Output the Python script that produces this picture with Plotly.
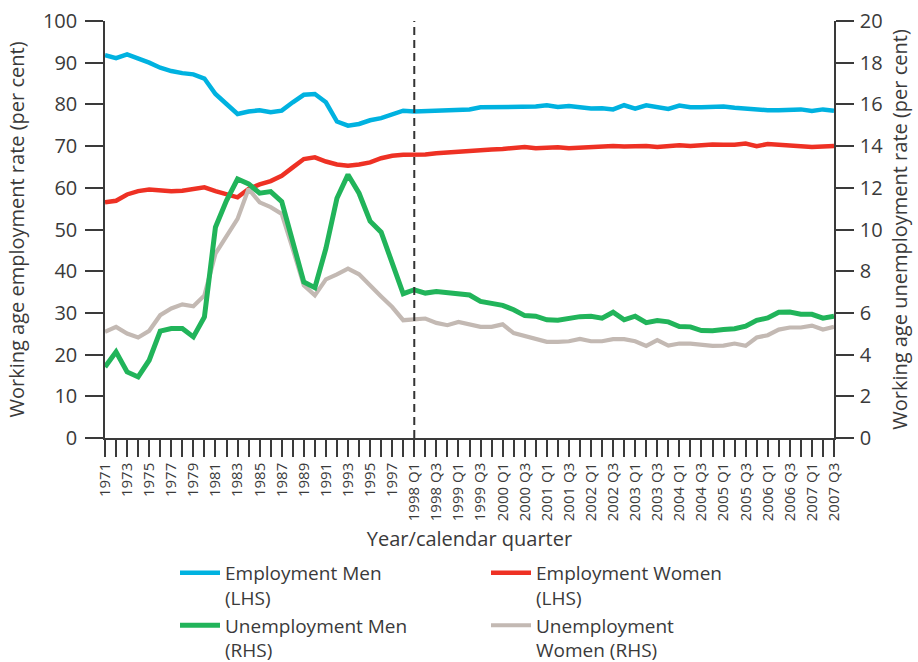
import plotly.graph_objects as go

# ---- categories ----
years = [str(y) for y in range(1971, 1999)]
quarters = []
for y in range(1998, 2008):
    for q in range(1, 5):
        if y == 2007 and q > 3:
            break
        quarters.append(f"{y} Q{q}")
categories = years + quarters
tick_text = [c if i % 2 == 0 else "" for i, c in enumerate(categories)]

# ---- series (annual 1971-1998, then quarterly 1998 Q1 - 2007 Q3) ----
emp_men_annual = [91.8, 91.1, 92.0, 91.1, 90.0, 88.8, 88.0, 87.5, 87.2, 86.2, 82.5, 80.1, 77.7, 78.3,
                  78.6, 78.1, 78.5, 80.5, 82.3, 82.5, 80.5, 75.9, 74.9, 75.3, 76.2, 76.7, 77.7, 78.5]
emp_men_quarterly = [78.3, 78.4, 78.5, 78.6, 78.7, 78.8, 79.3, 79.3, 79.4, 79.4, 79.4, 79.5, 79.8,
                     79.4, 79.6, 79.3, 79.0, 79.1, 78.8, 79.8, 79.0, 79.8, 79.3, 78.9, 79.7, 79.3,
                     79.3, 79.4, 79.5, 79.2, 79.0, 78.7, 78.6, 78.6, 78.7, 78.8, 78.4, 78.8, 78.5]

emp_women_annual = [56.5, 56.9, 58.4, 59.2, 59.6, 59.3, 59.2, 59.3, 59.7, 60.1, 59.2, 58.4, 57.7, 59.7,
                    60.8, 61.6, 62.9, 64.9, 66.9, 67.3, 66.3, 65.6, 65.3, 65.6, 66.1, 67.1, 67.7, 67.9]
emp_women_quarterly = [67.9, 68.0, 68.3, 68.5, 68.8, 69.0, 69.1, 69.2, 69.3, 69.5, 69.8, 69.5, 69.6,
                       69.7, 69.5, 69.6, 69.7, 70.0, 70.0, 69.9, 70.0, 70.0, 69.8, 70.1, 70.2, 70.0,
                       70.2, 70.4, 70.3, 70.3, 70.6, 70.0, 70.5, 70.3, 70.1, 70.1, 69.8, 69.9, 70.0]

unemp_men_annual = [3.41, 4.13, 3.17, 2.93, 3.73, 5.13, 5.25, 5.25, 4.85, 5.80, 10.11, 11.39, 12.42, 12.19,
                    11.74, 11.82, 11.34, 9.44, 7.48, 7.21, 9.09, 11.5, 12.63, 11.74, 10.4, 9.87, 8.36, 6.92]
unemp_men_quarterly = [7.11, 6.95, 7.03, 6.96, 6.95, 6.86, 6.55, 6.46, 6.36, 6.15, 5.87, 5.84, 5.67,
                       5.65, 5.74, 5.82, 5.84, 5.75, 6.03, 5.67, 5.84, 5.53, 5.63, 5.57, 5.35, 5.33,
                       5.15, 5.14, 5.20, 5.24, 5.36, 5.64, 5.76, 6.03, 6.04, 5.94, 5.93, 5.75, 5.84]

unemp_women_annual = [5.09, 5.33, 5.01, 4.82, 5.14, 5.89, 6.21, 6.41, 6.32, 6.84, 8.84, 9.71, 10.51, 11.95,
                      11.3, 11.07, 10.75, 9.07, 7.32, 6.84, 7.61, 7.85, 8.12, 7.85, 7.29, 6.79, 6.28, 5.65]
unemp_women_quarterly = [5.69, 5.73, 5.52, 5.41, 5.57, 5.47, 5.33, 5.33, 5.45, 5.03, 4.90, 4.72, 4.61,
                         4.61, 4.64, 4.75, 4.64, 4.64, 4.74, 4.74, 4.64, 4.42, 4.69, 4.43, 4.53, 4.53,
                         4.45, 4.42, 4.43, 4.53, 4.42, 4.82, 4.93, 5.20, 5.30, 5.30, 5.39, 5.20, 5.33]

emp_men = emp_men_annual + emp_men_quarterly
emp_women = emp_women_annual + emp_women_quarterly
unemp_men = unemp_men_annual + unemp_men_quarterly
unemp_women = unemp_women_annual + unemp_women_quarterly

BLUE = "#00B2E0"
RED = "#EE3124"
GREEN = "#21B45A"
GREY = "#C3B9B3"
TXT = "#3a3a3a"
FONT = "Open Sans"

W, H = 918, 662

fig = go.Figure()
fig.add_trace(go.Scatter(x=categories, y=emp_men, mode="lines", name="Employment Men<br>(LHS)",
                         line=dict(color=BLUE, width=4.5), legendrank=1))
fig.add_trace(go.Scatter(x=categories, y=emp_women, mode="lines", name="Employment Women<br>(LHS)",
                         line=dict(color=RED, width=4.5), legendrank=2))
fig.add_trace(go.Scatter(x=categories, y=unemp_women, mode="lines", name="Unemployment<br>Women (RHS)",
                         line=dict(color=GREY, width=4.2), yaxis="y2", legendrank=4))
fig.add_trace(go.Scatter(x=categories, y=unemp_men, mode="lines", name="Unemployment Men<br>(RHS)",
                         line=dict(color=GREEN, width=5), yaxis="y2", legendrank=3))

fig.add_shape(type="line", xref="x", yref="paper", x0=quarters[0], x1=quarters[0], y0=0, y1=1,
              line=dict(color="#333333", width=2, dash="8px,5px"))

fig.update_layout(
    width=W, height=H,
    margin=dict(l=105, r=84, t=21, b=224, autoexpand=False),
    paper_bgcolor="white", plot_bgcolor="white",
    font=dict(family=FONT, size=20, color=TXT),
    showlegend=True,
    legend=dict(orientation="h", xref="container", yref="container",
                x=175 / W, y=1 - 554 / H, xanchor="left", yanchor="top",
                entrywidth=256, entrywidthmode="pixels", itemwidth=40,
                font=dict(size=19, color=TXT), valign="top", tracegroupgap=0,
                bgcolor="rgba(0,0,0,0)", traceorder="normal"),
    xaxis=dict(type="category", range=[0, len(categories) - 1], tickmode="array",
               tickvals=categories, ticktext=tick_text, tickangle=-90, automargin=False,
               ticks="outside", ticklen=17, tickwidth=1.5, tickcolor=TXT,
               showline=True, linecolor=TXT, linewidth=1.5, showgrid=False, zeroline=False,
               tickfont=dict(size=15, color=TXT),
               title=dict(text="Year/calendar quarter", font=dict(size=20, color=TXT), standoff=12)),
    yaxis=dict(range=[0, 100], dtick=10, ticks="outside", ticklen=18, tickwidth=1.5, tickcolor=TXT,
               showline=True, linecolor=TXT, linewidth=1.5, showgrid=False, zeroline=False,
               automargin=False, tickfont=dict(size=20, color=TXT), ticklabelstandoff=4,
               title=dict(text="Working age employment rate (per cent)", font=dict(size=20, color=TXT),
                          standoff=13)),
    yaxis2=dict(range=[0, 20], dtick=2, overlaying="y", side="right", anchor="x",
                ticks="outside", ticklen=18, tickwidth=1.5, tickcolor=TXT, automargin=False,
                showline=True, linecolor=TXT, linewidth=1.5, showgrid=False, zeroline=False,
                tickfont=dict(size=20, color=TXT), ticklabelstandoff=2,
                title=dict(text="Working age unemployment rate (per cent)", font=dict(size=20, color=TXT),
                           standoff=11)),
)

fig.write_html("out.html", config={"displayModeBar": False},
               post_script="document.body.style.margin='0';")
